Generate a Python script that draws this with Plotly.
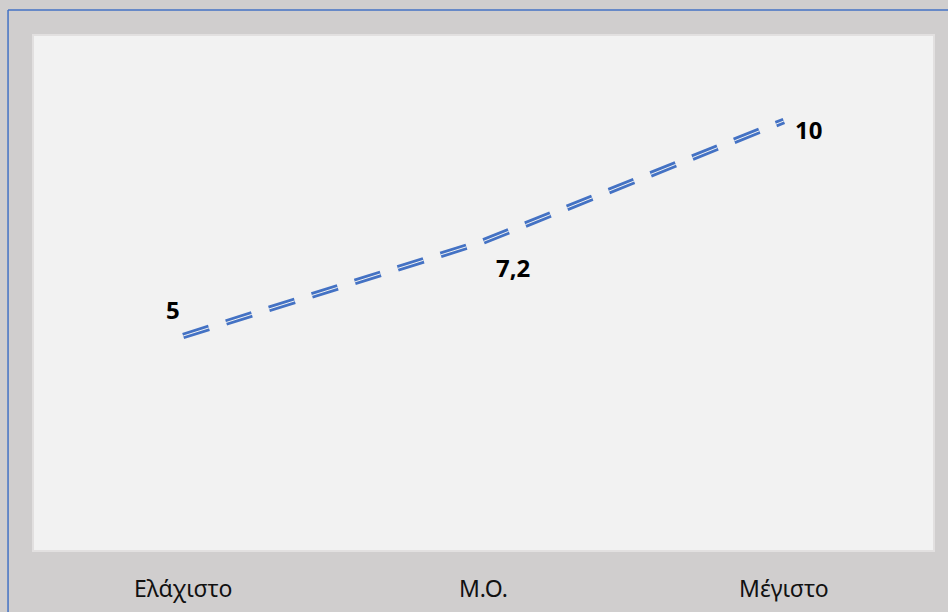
import plotly.graph_objects as go

# Summary statistics
categories = ["Ελάχιστο", "Μ.Ο.", "Μέγιστο"]
values = [5, 7.2, 10]
labels = [f"{v:g}".replace(".", ",") for v in values]

BLUE = "#4472c4"
PLOT_BG = "#f2f2f2"
PAPER_BG = "#d0cece"
DASH = "27px,18px"

fig = go.Figure()

# Double dashed line: a thick blue stroke with a thin background-coloured core
fig.add_trace(go.Scatter(
    x=categories, y=values, mode="lines",
    line=dict(color=BLUE, width=6.5, dash=DASH),
    hoverinfo="skip", showlegend=False,
))
fig.add_trace(go.Scatter(
    x=categories, y=values, mode="lines",
    line=dict(color=PLOT_BG, width=1, dash=DASH),
    hoverinfo="skip", showlegend=False,
))

# Data labels placed around each point
offsets = [
    dict(xanchor="center", yanchor="middle", xshift=-10, yshift=27),
    dict(xanchor="center", yanchor="middle", xshift=29, yshift=-26),
    dict(xanchor="center", yanchor="middle", xshift=25, yshift=-8),
]
for cat, val, lab, off in zip(categories, values, labels, offsets):
    fig.add_annotation(
        x=cat, y=val, text=f"<b>{lab}</b>", showarrow=False,
        font=dict(family="Noto Sans", size=24, color="#000000"),
        **off,
    )

# Chart frame (blue, top and left edges) and plot-area edge
fig.add_shape(type="line", xref="paper", yref="paper",
              x0=-0.0277, x1=1.1, y0=1.0484, y1=1.0484,
              line=dict(color=BLUE, width=1.5), layer="below")
fig.add_shape(type="line", xref="paper", yref="paper",
              x0=-0.0277, x1=-0.0277, y0=-0.2, y1=1.0484,
              line=dict(color=BLUE, width=1.5), layer="below")
fig.add_shape(type="rect", xref="paper", yref="paper",
              x0=0, x1=1, y0=0, y1=1,
              line=dict(color="#e2e0e0", width=2), layer="below")

fig.update_layout(
    width=948, height=612,
    margin=dict(l=33, r=14, t=35, b=61),
    paper_bgcolor=PAPER_BG, plot_bgcolor=PLOT_BG,
    font=dict(family="Noto Sans", color="#111111"),
)
fig.update_xaxes(
    type="category", range=[-0.5, 2.5], automargin=False,
    showgrid=False, zeroline=False, showline=False,
    ticks="", ticklabelstandoff=22,
    tickfont=dict(family="Noto Sans", size=23, color="#111111"),
)
fig.update_yaxes(
    range=[0, 12], visible=False, showgrid=False, zeroline=False,
    automargin=False,
)

fig.write_html("out.html")
